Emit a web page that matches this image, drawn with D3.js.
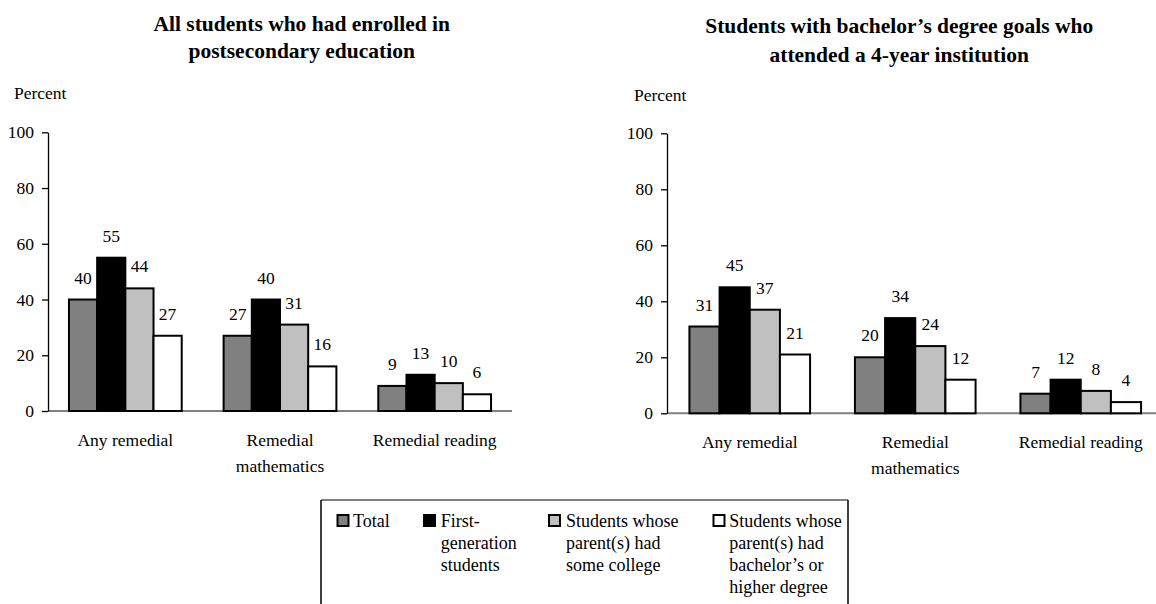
<!DOCTYPE html>
<html><head><meta charset="utf-8">
<script src="https://cdn.jsdelivr.net/npm/d3@7"></script>
<style>
html,body{margin:0;padding:0;background:#fff;}
svg{display:block;}
text{font-family:"Liberation Serif","Times New Roman",serif;fill:#000;}
</style>
</head><body><svg id="chart" width="1156" height="604" font-family="'Liberation Serif','Times New Roman',serif"></svg>
<script>
// ---------------- data ----------------
const categories = ["Any remedial", "Remedial mathematics", "Remedial reading"];
const categoryLines = [["Any remedial"], ["Remedial", "mathematics"], ["Remedial reading"]];
const seriesNames = ["Total", "First-generation students",
  "Students whose parent(s) had some college",
  "Students whose parent(s) had bachelor’s or higher degree"];
const legendLines = [["Total"], ["First-", "generation", "students"],
  ["Students whose", "parent(s) had", "some college"],
  ["Students whose", "parent(s) had", "bachelor’s or", "higher degree"]];
const yTicks = [0, 20, 40, 60, 80, 100];
const panelTitles = [["All students who had enrolled in", "postsecondary education"],
  ["Students with bachelor’s degree goals who", "attended a 4-year institution"]];
const axisLabel = "Percent";

// Panel 1: all students who had enrolled
const allTotal = [40, 27, 9];
const allFirstGen = [55, 40, 13];
const allSomeCollege = [44, 31, 10];
const allBachelor = [27, 16, 6];
// Panel 2: bachelor's degree goals, 4-year institution
const bachTotal = [31, 20, 7];
const bachFirstGen = [45, 34, 12];
const bachSomeCollege = [37, 24, 8];
const bachBachelor = [21, 12, 4];

const seriesColors = ["#808080", "#000000", "#c0c0c0", "#ffffff"];

// ---------------- layout ----------------
const SERIF = "'Liberation Serif','Times New Roman',serif";
const panels = [
  { series: [allTotal, allFirstGen, allSomeCollege, allBachelor], title: panelTitles[0],
    x0: 48, x1: 512, yTop: 132.3, yBase: 411,
    titleX: 301.7, titleY: 30.7, titleDy: 27.7,
    pctX: 14, pctY: 99, catY: 445.5, catDy: 26.5 },
  { series: [bachTotal, bachFirstGen, bachSomeCollege, bachBachelor], title: panelTitles[1],
    x0: 667, x1: 1163.5, yTop: 133.3, yBase: 413.3,
    titleX: 899.2, titleY: 33.3, titleDy: 28.4,
    pctX: 634, pctY: 100.5, catY: 447.5, catDy: 26.5 }
];

const svg = d3.select("#chart");
const FS = 17.5;

panels.forEach(p => {
  const g = svg.append("g");
  const x0 = d3.scaleBand().domain(categories).range([p.x0, p.x1])
    .paddingInner(0.271).paddingOuter(0.1355);
  const x1 = d3.scaleBand().domain(d3.range(seriesNames.length)).range([0, x0.bandwidth()]);
  const y = d3.scaleLinear().domain([0, 100]).range([p.yBase, p.yTop]);

  // title
  const t = g.append("text").attr("x", p.titleX).attr("y", p.titleY)
    .attr("text-anchor", "middle").attr("font-family", SERIF)
    .style("font-size", "21.5px").style("font-weight", "bold");
  p.title.forEach((line, i) => t.append("tspan").attr("x", p.titleX).attr("y", p.titleY + i * p.titleDy).text(line));

  // Percent label
  g.append("text").attr("x", p.pctX).attr("y", p.pctY).attr("font-family", SERIF)
    .style("font-size", FS + "px").text(axisLabel);

  // x axis baseline
  g.append("line").attr("x1", p.x0).attr("x2", p.x1).attr("y1", y(0)).attr("y2", y(0))
    .attr("stroke", "#808080").attr("stroke-width", 2);

  // y axis
  const ya = g.append("g").attr("transform", `translate(${p.x0},0)`)
    .call(d3.axisLeft(y).tickValues(yTicks).tickSize(6).tickSizeOuter(0).tickPadding(8));
  ya.attr("font-family", SERIF).attr("font-size", FS);
  ya.select(".domain").attr("stroke", "#000").attr("stroke-width", 1.3);
  ya.selectAll(".tick line").attr("stroke", "#000").attr("stroke-width", 1.3);
  ya.selectAll(".tick text").attr("font-family", SERIF).style("font-size", FS + "px").attr("fill", "#000");

  // bars
  categories.forEach((c, ci) => {
    p.series.forEach((vals, si) => {
      const v = vals[ci];
      const bx = x0(c) + x1(si);
      g.append("rect").attr("x", bx).attr("y", y(v))
        .attr("width", x1.bandwidth()).attr("height", y(0) - y(v))
        .attr("fill", seriesColors[si]).attr("stroke", "#000").attr("stroke-width", 2);
      g.append("text").attr("x", bx + x1.bandwidth() / 2).attr("y", y(v) - 16)
        .attr("text-anchor", "middle").attr("font-family", SERIF)
        .style("font-size", FS + "px").text(v);
    });
    // category label
    const ct = g.append("text").attr("text-anchor", "middle").attr("font-family", SERIF)
      .style("font-size", FS + "px");
    const cx = x0(c) + x0.bandwidth() / 2;
    categoryLines[ci].forEach((line, li) =>
      ct.append("tspan").attr("x", cx).attr("y", p.catY + li * p.catDy).text(line));
  });
});

// ---------------- legend ----------------
const legendBox = { left: 321, right: 848, top: 500, bottom: 610 };
svg.append("line").attr("x1", legendBox.left).attr("x2", legendBox.right)
  .attr("y1", legendBox.top).attr("y2", legendBox.top).attr("stroke", "#808080").attr("stroke-width", 2);
svg.append("line").attr("x1", legendBox.left).attr("x2", legendBox.left)
  .attr("y1", legendBox.top).attr("y2", legendBox.bottom).attr("stroke", "#000").attr("stroke-width", 1.5);
svg.append("line").attr("x1", legendBox.right).attr("x2", legendBox.right)
  .attr("y1", legendBox.top).attr("y2", legendBox.bottom).attr("stroke", "#000").attr("stroke-width", 1.5);

const swatchX = [337.5, 424, 549, 713.5];
const textX = [353, 440.7, 566, 729.3];
seriesNames.forEach((s, i) => {
  svg.append("rect").attr("x", swatchX[i]).attr("y", 515).attr("width", 11).attr("height", 11)
    .attr("fill", seriesColors[i]).attr("stroke", "#000").attr("stroke-width", 2);
  const lt = svg.append("text").attr("font-family", SERIF).style("font-size", "18px");
  legendLines[i].forEach((line, li) =>
    lt.append("tspan").attr("x", textX[i]).attr("y", 526.5 + li * 22.2).text(line));
});
</script>
</body></html>
